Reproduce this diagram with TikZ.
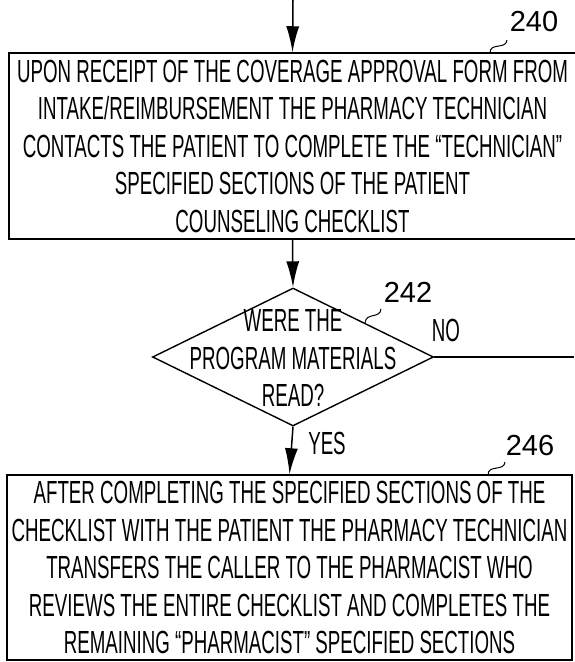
\documentclass[tikz,border=0pt]{standalone}
\usepackage{fontspec}
\setmainfont{Liberation Sans}[FakeStretch=0.585]
\newfontfamily\labelfont{Liberation Sans}
\usetikzlibrary{shapes.geometric,arrows.meta}
\begin{document}
\begin{tikzpicture}[x=1pt,y=-1pt,
  txtfont/.style={font=\fontsize{32}{37.5}\selectfont},
  box/.style={draw, line width=1.5pt, inner sep=0pt, align=center, txtfont},
  decision/.style={diamond, draw, line width=1.4pt, minimum width=281pt, minimum height=138pt, inner sep=0pt},
  txt/.style={inner sep=0pt, align=center, txtfont},
  lbl/.style={inner sep=0pt, font=\labelfont\fontsize{29}{30}\selectfont},
  arr/.style={line width=1.5pt, -{Latex[length=26pt,width=13pt]}},
  conn/.style={line width=1.5pt},
  leader/.style={line width=1pt}
]
\useasboundingbox (0,0) rectangle (574,662);

\coordinate (in) at (293,0);
\node[box, minimum width=567pt, minimum height=186pt] (b240) at (292.5,146)
  {UPON RECEIPT OF THE COVERAGE APPROVAL FORM FROM\\
   INTAKE/REIMBURSEMENT THE PHARMACY TECHNICIAN\\
   CONTACTS THE PATIENT TO COMPLETE THE ``TECHNICIAN''\\
   SPECIFIED SECTIONS OF THE PATIENT\\
   COUNSELING CHECKLIST};

\node[decision] (d) at (293,357) {};
\node[txt] (dq) at (293,358) {WERE THE\\PROGRAM MATERIALS\\READ?};

\node[box, minimum width=565pt, minimum height=185pt] (b246) at (289.5,567.5)
  {AFTER COMPLETING THE SPECIFIED SECTIONS OF THE\\
   CHECKLIST WITH THE PATIENT THE PHARMACY TECHNICIAN\\
   TRANSFERS THE CALLER TO THE PHARMACIST WHO\\
   REVIEWS THE ENTIRE CHECKLIST AND COMPLETES THE\\
   REMAINING ``PHARMACIST'' SPECIFIED SECTIONS};

\coordinate (noend) at (574,357);

\draw[arr] (in) -- (b240.north);
\draw[arr] (b240.south) -- (d.north);
\draw[conn] (d.east) -- (noend);
\draw[arr] (d.south) -- (b246.north);

\node[txt] (no) at (446,330) {NO};
\node[txt] (yes) at (327,443) {YES};

\node[lbl] (l240) at (534,22) {240};
\node[lbl] (l242) at (408,292) {242};
\node[lbl] (l246) at (530,446) {246};

\coordinate (a240) at (490,53);
\coordinate (e240) at (507,40);
\coordinate (a242) at (365,323);
\coordinate (e242) at (381,309);
\coordinate (a246) at (488,475);
\coordinate (e246) at (505,462);
\draw[leader] (a240) .. controls (490,42) and (506,50) .. (e240);
\draw[leader] (a242) .. controls (366,312) and (380,319) .. (e242);
\draw[leader] (a246) .. controls (488,464) and (504,472) .. (e246);
\end{tikzpicture}
\end{document}
